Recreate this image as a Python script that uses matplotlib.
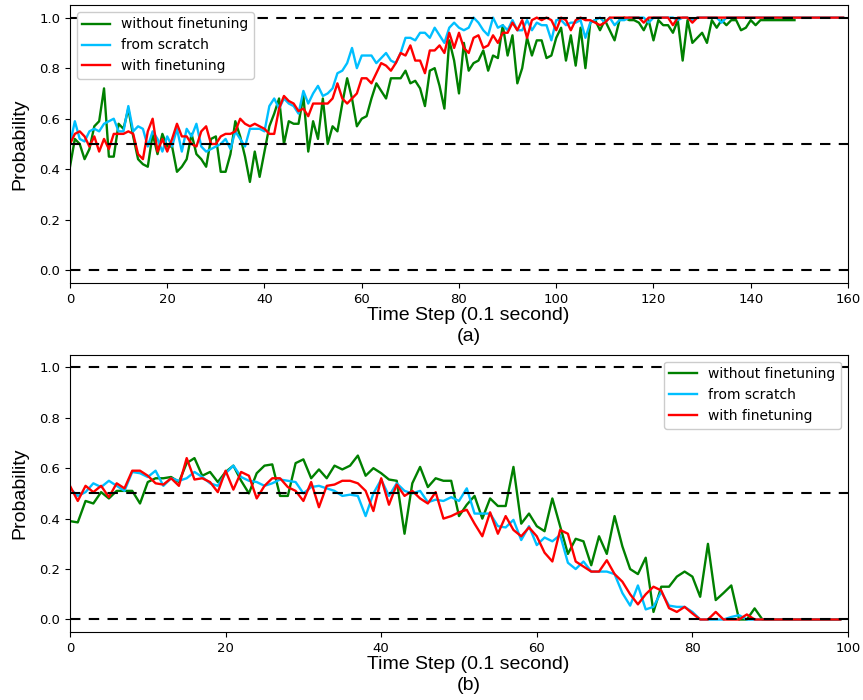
import matplotlib.pyplot as plt
import numpy as np

# (a) dados
a_sem = [0.41, 0.52, 0.50, 0.44, 0.48, 0.57, 0.59, 0.72, 0.45, 0.45,
         0.58, 0.56, 0.64, 0.53, 0.44, 0.42, 0.41, 0.54, 0.46, 0.54,
         0.49, 0.49, 0.39, 0.41, 0.44, 0.54, 0.46, 0.44, 0.41, 0.52,
         0.53, 0.39, 0.39, 0.46, 0.59, 0.53, 0.45, 0.35, 0.47, 0.37,
         0.47, 0.57, 0.62, 0.68, 0.50, 0.59, 0.58, 0.58, 0.69, 0.47,
         0.59, 0.52, 0.68, 0.50, 0.57, 0.55, 0.66, 0.76, 0.68, 0.57,
         0.60, 0.61, 0.68, 0.74, 0.71, 0.68, 0.76, 0.76, 0.76, 0.79,
         0.74, 0.75, 0.72, 0.65, 0.79, 0.80, 0.73, 0.64, 0.91, 0.83,
         0.70, 0.90, 0.79, 0.82, 0.83, 0.87, 0.79, 0.85, 0.84, 0.97,
         0.85, 0.93, 0.74, 0.80, 0.92, 0.85, 0.91, 0.91, 0.84, 0.85,
         0.92, 0.96, 0.83, 0.93, 0.81, 0.96, 0.80, 0.98, 0.99, 0.95,
         0.99, 0.95, 0.91, 0.99, 1.00, 0.99, 0.99, 0.98, 0.95, 0.99,
         0.91, 0.99, 0.97, 0.97, 0.94, 0.99, 0.83, 0.99, 0.90, 0.92,
         0.94, 0.90, 0.99, 0.96, 0.99, 0.97, 0.99, 0.99, 0.95, 0.96,
         0.99, 0.97, 0.99, 0.99, 0.99, 0.99, 0.99, 0.99, 0.99, 0.99]

a_zero = [0.50, 0.59, 0.52, 0.51, 0.55, 0.56, 0.55, 0.58, 0.59, 0.60,
          0.55, 0.55, 0.65, 0.55, 0.57, 0.56, 0.49, 0.55, 0.52, 0.47,
          0.53, 0.49, 0.56, 0.47, 0.56, 0.53, 0.58, 0.49, 0.47, 0.48,
          0.49, 0.50, 0.52, 0.48, 0.55, 0.52, 0.49, 0.56, 0.56, 0.56,
          0.55, 0.65, 0.68, 0.64, 0.68, 0.66, 0.65, 0.62, 0.71, 0.66,
          0.70, 0.73, 0.69, 0.70, 0.72, 0.78, 0.79, 0.82, 0.88, 0.80,
          0.85, 0.85, 0.85, 0.82, 0.84, 0.86, 0.83, 0.82, 0.86, 0.92,
          0.92, 0.91, 0.94, 0.94, 0.92, 0.96, 0.93, 0.90, 0.96, 0.98,
          0.96, 0.95, 0.96, 1.00, 0.98, 0.95, 0.93, 1.00, 0.96, 0.97,
          0.95, 0.99, 0.95, 0.95, 0.99, 0.95, 0.98, 0.97, 0.97, 0.91,
          0.99, 0.99, 0.97, 0.98, 0.98, 0.99, 0.92, 0.98, 0.99, 1.00,
          0.98, 1.00, 0.97, 0.99, 0.99, 1.00, 1.00, 1.00, 1.00, 0.98,
          1.00, 1.00, 1.00, 1.00, 1.00, 0.99, 1.00, 1.00, 0.99, 1.00,
          1.00, 1.00, 1.00, 1.00, 0.98, 1.00, 1.00, 1.00, 1.00, 1.00,
          1.00, 1.00, 1.00, 1.00, 1.00, 1.00, 1.00, 1.00, 1.00, 1.00,
          1.00, 1.00, 1.00, 1.00, 1.00, 1.00, 1.00, 1.00, 1.00, 1.00]

a_com = [0.50, 0.54, 0.55, 0.53, 0.49, 0.53, 0.47, 0.52, 0.48, 0.54,
         0.54, 0.54, 0.55, 0.54, 0.46, 0.44, 0.55, 0.60, 0.47, 0.52,
         0.47, 0.52, 0.58, 0.53, 0.53, 0.50, 0.49, 0.55, 0.57, 0.50,
         0.50, 0.53, 0.54, 0.54, 0.55, 0.60, 0.58, 0.57, 0.58, 0.57,
         0.56, 0.54, 0.54, 0.64, 0.69, 0.67, 0.66, 0.63, 0.64, 0.61,
         0.66, 0.66, 0.66, 0.66, 0.68, 0.74, 0.68, 0.66, 0.68, 0.70,
         0.76, 0.76, 0.74, 0.78, 0.82, 0.81, 0.79, 0.82, 0.86, 0.85,
         0.89, 0.83, 0.83, 0.78, 0.87, 0.87, 0.89, 0.86, 0.94, 0.88,
         0.94, 0.88, 0.86, 0.92, 0.93, 0.88, 0.89, 0.93, 0.90, 0.94,
         0.94, 0.98, 0.95, 0.99, 0.92, 0.99, 1.00, 0.99, 1.00, 0.99,
         0.95, 1.00, 0.99, 0.95, 0.99, 1.00, 0.99, 0.99, 0.98, 0.97,
         0.98, 1.00, 1.00, 1.00, 1.00, 1.00, 1.00, 1.00, 0.98, 1.00,
         1.00, 1.00, 1.00, 1.00, 0.97, 1.00, 1.00, 1.00, 0.98, 1.00,
         1.00, 1.00, 1.00, 1.00, 1.00, 1.00, 1.00, 1.00, 1.00, 1.00,
         1.00, 1.00, 1.00, 1.00, 1.00, 1.00, 1.00, 1.00, 1.00, 1.00,
         1.00, 1.00, 1.00, 1.00, 1.00, 1.00, 1.00, 1.00, 1.00, 1.00]

# (b) dados
b_sem = [0.39, 0.385, 0.47, 0.46, 0.505, 0.48, 0.51, 0.51, 0.51, 0.46,
         0.545, 0.56, 0.56, 0.565, 0.545, 0.62, 0.64, 0.57, 0.585, 0.545,
         0.585, 0.61, 0.55, 0.50, 0.58, 0.61, 0.615, 0.49, 0.49, 0.62,
         0.635, 0.56, 0.595, 0.56, 0.61, 0.595, 0.61, 0.65, 0.57, 0.60,
         0.58, 0.555, 0.55, 0.34, 0.54, 0.605, 0.525, 0.56, 0.55, 0.55,
         0.41, 0.455, 0.49, 0.40, 0.48, 0.45, 0.45, 0.605, 0.38, 0.42,
         0.37, 0.35, 0.48, 0.37, 0.26, 0.32, 0.31, 0.215, 0.33, 0.26,
         0.41, 0.29, 0.20, 0.18, 0.245, 0.03, 0.13, 0.13, 0.17, 0.19,
         0.17, 0.09, 0.30, 0.077, 0.105, 0.135, 0.0, 0.0, 0.044, 0.0,
         0.0, 0.0, 0.0, 0.0, 0.0, 0.0, 0.0, 0.0, 0.0, 0.0]

b_zero = [0.52, 0.49, 0.505, 0.54, 0.525, 0.55, 0.53, 0.51, 0.585, 0.58,
          0.565, 0.59, 0.53, 0.56, 0.55, 0.56, 0.585, 0.565, 0.54, 0.53,
          0.58, 0.61, 0.565, 0.55, 0.545, 0.53, 0.54, 0.555, 0.55, 0.545,
          0.50, 0.525, 0.53, 0.52, 0.51, 0.49, 0.495, 0.49, 0.41, 0.50,
          0.555, 0.49, 0.54, 0.51, 0.50, 0.51, 0.465, 0.475, 0.47, 0.485,
          0.47, 0.52, 0.42, 0.42, 0.42, 0.37, 0.365, 0.395, 0.315, 0.37,
          0.295, 0.325, 0.31, 0.335, 0.225, 0.20, 0.23, 0.19, 0.19, 0.19,
          0.18, 0.105, 0.055, 0.135, 0.04, 0.05, 0.11, 0.055, 0.05, 0.05,
          0.03, 0.0, 0.0, 0.0, 0.0, 0.01, 0.017, 0.0, 0.0, 0.0,
          0.0, 0.0, 0.0, 0.0, 0.0, 0.0, 0.0, 0.0, 0.0, 0.0]

b_com = [0.53, 0.47, 0.53, 0.505, 0.53, 0.485, 0.54, 0.52, 0.59, 0.59,
         0.57, 0.54, 0.535, 0.56, 0.53, 0.64, 0.555, 0.56, 0.545, 0.505,
         0.59, 0.515, 0.585, 0.57, 0.48, 0.53, 0.56, 0.56, 0.525, 0.51,
         0.47, 0.545, 0.445, 0.53, 0.535, 0.55, 0.55, 0.54, 0.51, 0.43,
         0.56, 0.455, 0.535, 0.49, 0.51, 0.48, 0.46, 0.505, 0.40, 0.41,
         0.425, 0.435, 0.38, 0.33, 0.425, 0.34, 0.41, 0.355, 0.33, 0.365,
         0.33, 0.265, 0.23, 0.355, 0.34, 0.23, 0.21, 0.19, 0.19, 0.235,
         0.18, 0.15, 0.10, 0.06, 0.10, 0.13, 0.115, 0.045, 0.03, 0.05,
         0.024, 0.0, 0.0, 0.03, 0.0, 0.0, 0.0, 0.02, 0.0, 0.0,
         0.0, 0.0, 0.0, 0.0, 0.0, 0.0, 0.0, 0.0, 0.0, 0.0]

nomes = ['without finetuning', 'from scratch', 'with finetuning']
cores = ['green', 'deepskyblue', 'red']

fig = plt.figure(figsize=(8.63, 7.0), dpi=100)
ax1 = fig.add_axes([0.0811, 0.5957, 0.9015, 0.3972])
ax2 = fig.add_axes([0.0811, 0.0970, 0.9015, 0.3963])

lab_font = {'family': 'Liberation Sans', 'size': 14}

paineis = [(ax1, [a_sem, a_zero, a_com], 160, '(a)', 'upper left'),
           (ax2, [b_sem, b_zero, b_com], 100, '(b)', 'upper right')]

for ax, dados, xmax, letra, loc in paineis:
    linhas = []
    for y, nome, cor in zip(dados, nomes, cores):
        l, = ax.plot(np.arange(len(y)), y, color=cor, lw=1.7, label=nome)
        linhas.append(l)
    for h in [0.0, 0.5, 1.0]:
        ax.axhline(h, color='k', ls='--', lw=1.5, dashes=(5, 4))
    ax.set_xlim(0, xmax)
    ax.set_ylim(-0.05, 1.05)
    ax.set_yticks([0.0, 0.2, 0.4, 0.6, 0.8, 1.0])
    ax.tick_params(labelsize=9.5)
    ax.set_ylabel('Probability', fontdict=lab_font)
    ax.set_xlabel('Time Step (0.1 second)\n' + letra, fontdict=lab_font, linespacing=1.35)
    ax.xaxis.set_label_coords(0.512, -0.085)
    ax.xaxis.label.set_va('top')
    ax.yaxis.set_label_coords(-0.053, 0.5)
    ax.legend(handles=linhas, loc=loc, fontsize=10, framealpha=1)

fig.savefig('out.png', dpi=100)
